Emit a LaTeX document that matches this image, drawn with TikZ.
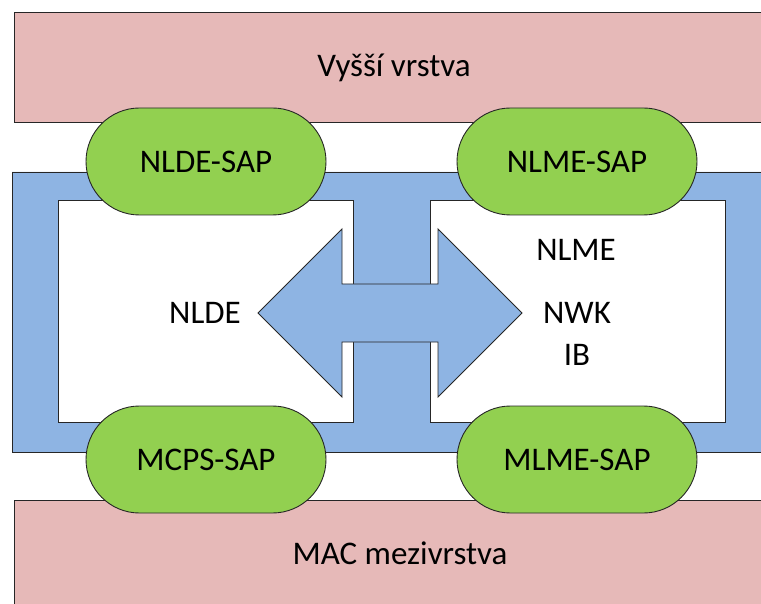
\documentclass[tikz,border=0pt]{standalone}
\usepackage{fontspec}
\setmainfont{Carlito}
\usetikzlibrary{shapes.misc}
\definecolor{layerpink}{HTML}{E6B9B8}
\definecolor{nwkblue}{HTML}{8EB4E3}
\definecolor{sapgreen}{HTML}{92D050}
\tikzset{
  outline/.style={draw=black!85, line width=0.9pt},
  sap/.style={rounded rectangle, outline, fill=sapgreen, minimum width=240pt,
    minimum height=107pt, inner sep=0pt, font=\fontsize{33}{40}\selectfont},
  lbl/.style={inner sep=0pt, font=\fontsize{33}{40}\selectfont}
}
\begin{document}
\begin{tikzpicture}[x=1pt,y=-1pt]
  \useasboundingbox (0,0) rectangle (761,604);
  \clip (0,0) rectangle (761,604);

  % upper and lower layers
  \path[outline, fill=layerpink] (14,12) rectangle (800,122);
  \path[outline, fill=layerpink] (14,500) rectangle (800,640);

  % network layer frame with the two entity boxes cut out
  \path[outline, fill=nwkblue, even odd rule]
    (12,172) rectangle (800,452)
    (58,200) rectangle (353,422)
    (430,200) rectangle (725,422);

  % double arrow between NLDE and NLME
  \path[outline, fill=nwkblue]
    (258,313) -- (342,229) -- (342,284) -- (438,284) -- (438,229)
    -- (522,313) -- (438,397) -- (438,342) -- (342,342) -- (342,397) -- cycle;

  % service access points
  \node[sap] (nldesap) at (206,161.5) {NLDE-SAP};
  \node[sap] (nlmesap) at (577,161.5) {NLME-SAP};
  \node[sap] (mcpssap) at (206,459.5) {MCPS-SAP};
  \node[sap] (mlmesap) at (577,459.5) {MLME-SAP};

  % labels
  \node[lbl] (upper) at (394,68) {Vyšší vrstva};
  \node[lbl] (mac) at (400,553) {MAC mezivrstva};
  \node[lbl] (nlde) at (205,313) {NLDE};
  \node[lbl] (nlme) at (576,250) {NLME};
  \node[lbl] (nwk) at (577,313) {NWK};
  \node[lbl] (ib) at (577,355) {IB};
\end{tikzpicture}
\end{document}
